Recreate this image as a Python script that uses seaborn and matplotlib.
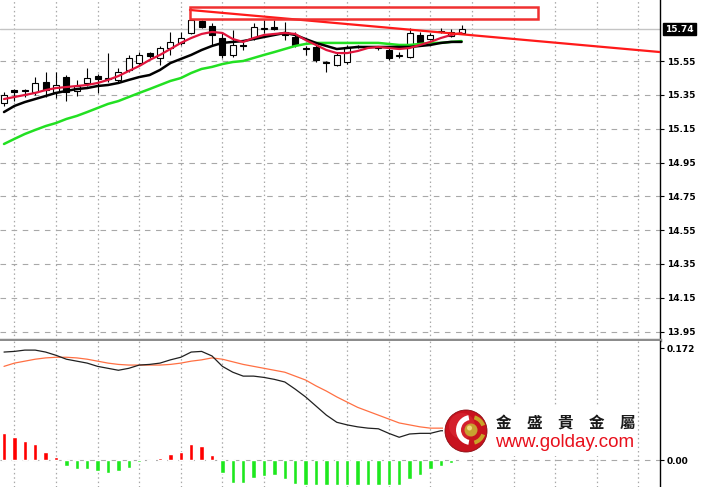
import numpy as np
import pandas as pd
import matplotlib
matplotlib.use("Agg")
import matplotlib.pyplot as plt
import matplotlib.transforms as mtransforms
import seaborn as sns
from matplotlib.patches import Rectangle, Circle, Wedge

# --- candle data (one bar per period) ---
opens = [15.303, 15.379, 15.379, 15.368, 15.427, 15.368, 15.456, 15.374, 15.421, 15.462,
         15.445, 15.439, 15.498, 15.539, 15.598, 15.569, 15.628, 15.658, 15.717, 15.788,
         15.758, 15.687, 15.587, 15.646, 15.687, 15.740, 15.752, 15.723, 15.693, 15.628,
         15.634, 15.545, 15.527, 15.545, 15.634, 15.634, 15.628, 15.616, 15.581, 15.575,
         15.705, 15.681, 15.729, 15.699, 15.717]
highs = [15.368, 15.385, 15.385, 15.456, 15.486, 15.486, 15.468, 15.439, 15.510, 15.474,
         15.598, 15.510, 15.587, 15.604, 15.604, 15.640, 15.723, 15.723, 15.800, 15.794,
         15.776, 15.723, 15.734, 15.664, 15.776, 15.794, 15.794, 15.782, 15.723, 15.640,
         15.646, 15.551, 15.598, 15.646, 15.646, 15.640, 15.640, 15.628, 15.604, 15.746,
         15.723, 15.717, 15.746, 15.740, 15.764]
lows = [15.285, 15.314, 15.338, 15.350, 15.338, 15.332, 15.314, 15.344, 15.403, 15.362,
        15.427, 15.427, 15.486, 15.521, 15.569, 15.527, 15.587, 15.646, 15.711, 15.746,
        15.646, 15.569, 15.575, 15.616, 15.675, 15.717, 15.734, 15.675, 15.634, 15.587,
        15.545, 15.486, 15.521, 15.533, 15.628, 15.628, 15.616, 15.557, 15.569, 15.569,
        15.652, 15.675, 15.717, 15.693, 15.711]
closes = [15.350, 15.368, 15.374, 15.421, 15.379, 15.409, 15.368, 15.403, 15.450, 15.445,
          15.450, 15.486, 15.569, 15.587, 15.581, 15.628, 15.664, 15.687, 15.794, 15.752,
          15.705, 15.587, 15.646, 15.640, 15.752, 15.746, 15.740, 15.705, 15.646, 15.622,
          15.557, 15.539, 15.587, 15.634, 15.640, 15.634, 15.634, 15.569, 15.587, 15.717,
          15.664, 15.705, 15.723, 15.723, 15.740]

# moving averages
ma_red = [15.326, 15.338, 15.350, 15.362, 15.379, 15.391, 15.397, 15.403, 15.409, 15.421,
          15.439, 15.462, 15.492, 15.521, 15.557, 15.587, 15.622, 15.658, 15.687, 15.711,
          15.723, 15.717, 15.681, 15.664, 15.687, 15.705, 15.711, 15.717, 15.711, 15.675,
          15.646, 15.616, 15.598, 15.598, 15.610, 15.628, 15.634, 15.628, 15.622, 15.628,
          15.646, 15.664, 15.687, 15.705, 15.717]
ma_black = [15.249, 15.285, 15.308, 15.326, 15.344, 15.362, 15.374, 15.385, 15.391, 15.403,
            15.409, 15.421, 15.439, 15.456, 15.468, 15.498, 15.539, 15.563, 15.587, 15.616,
            15.640, 15.658, 15.664, 15.669, 15.681, 15.693, 15.705, 15.717, 15.705, 15.681,
            15.658, 15.640, 15.622, 15.628, 15.634, 15.634, 15.634, 15.634, 15.634, 15.634,
            15.640, 15.646, 15.658, 15.664, 15.664]
ma_green = [15.060, 15.090, 15.119, 15.143, 15.166, 15.184, 15.208, 15.226, 15.249, 15.273,
            15.297, 15.314, 15.338, 15.362, 15.385, 15.409, 15.433, 15.450, 15.480, 15.504,
            15.516, 15.533, 15.545, 15.551, 15.569, 15.587, 15.604, 15.622, 15.640, 15.652,
            15.658, 15.658, 15.658, 15.658, 15.658, 15.658, 15.658, 15.652, 15.646, 15.646,
            15.652, 15.658, 15.658, 15.664, 15.669]

# MACD panel
macd_line = [0.166, 0.167, 0.169, 0.169, 0.166, 0.161, 0.155, 0.152, 0.149, 0.144,
             0.141, 0.138, 0.141, 0.146, 0.147, 0.149, 0.154, 0.158, 0.166, 0.167,
             0.160, 0.144, 0.135, 0.129, 0.129, 0.127, 0.124, 0.120, 0.109, 0.097,
             0.083, 0.069, 0.058, 0.054, 0.051, 0.049, 0.048, 0.041, 0.035, 0.040,
             0.041, 0.041, 0.045, 0.045, 0.046]
signal_line = [0.144, 0.149, 0.152, 0.155, 0.157, 0.158, 0.158, 0.157, 0.155, 0.152,
               0.149, 0.147, 0.146, 0.146, 0.146, 0.146, 0.147, 0.149, 0.152, 0.154,
               0.157, 0.155, 0.151, 0.147, 0.144, 0.141, 0.138, 0.135, 0.129, 0.123,
               0.114, 0.106, 0.097, 0.089, 0.081, 0.075, 0.069, 0.063, 0.057, 0.054,
               0.051, 0.049, 0.049, 0.049, 0.049]
histogram = [0.041, 0.035, 0.029, 0.025, 0.012, 0.005, -0.009, -0.014, -0.014, -0.017,
             -0.020, -0.017, -0.012, -0.003, -0.002, 0.003, 0.009, 0.012, 0.025, 0.022,
             0.008, -0.020, -0.035, -0.035, -0.028, -0.025, -0.023, -0.029, -0.037, -0.038,
             -0.038, -0.038, -0.038, -0.038, -0.038, -0.038, -0.038, -0.038, -0.038, -0.029,
             -0.023, -0.014, -0.009, -0.005, 0.001]

# drawn objects: trendline and resistance box (bar index, price)
trend_x = [17.88, 63.08]
trend_y = [15.853, 15.604]
box_x = [17.88, 51.35]
box_y = [15.800, 15.871]

price_ticks = [15.55, 15.35, 15.15, 14.95, 14.75, 14.55, 14.35, 14.15, 13.95]
last_price = 15.74
macd_ticks = [0.0, 0.172]

df = pd.DataFrame({"idx": np.arange(len(opens)), "open": opens, "high": highs,
                   "low": lows, "close": closes, "red": ma_red, "black": ma_black,
                   "green": ma_green, "macd": macd_line, "signal": signal_line,
                   "hist": histogram})

sns.set_theme(style="white")
plt.rcParams["font.family"] = ["DejaVu Sans"]

W, H = 705, 487
fig = plt.figure(figsize=(W / 100, H / 100), dpi=100)


def px_box(x0, y0, x1, y1):
    return [x0 / W, 1 - y1 / H, (x1 - x0) / W, (y1 - y0) / H]


ax = fig.add_axes(px_box(0, 0, 660, 340))
ax2 = fig.add_axes(px_box(0, 341, 660, 487), sharex=ax)

grid_c = "#a8a8a8"
vgrid = np.arange(1, 63, 4)

# --- price panel ---
for v in price_ticks:
    ax.axhline(v, color=grid_c, lw=0.8, ls=(0, (5, 5)), zorder=0)
for v in vgrid:
    ax.axvline(v, color=grid_c, lw=0.9, ls=(0, (1.2, 2.3)), zorder=0)
ax.axhline(last_price, color="#c4c4c4", lw=1.0, zorder=0.5)

ax.vlines(df["idx"], df["low"], df["high"], color="black", lw=0.8, zorder=2)
up = df["close"] >= df["open"]
body = (df["close"] - df["open"]).abs().clip(lower=0.002)
bottom = df[["open", "close"]].min(axis=1)
ax.bar(df["idx"], body, bottom=bottom, width=0.58,
       color=np.where(up, "white", "black"), edgecolor="black", linewidth=0.8, zorder=3)

sns.lineplot(data=df, x="idx", y="green", ax=ax, color="#22e022", lw=1.8, zorder=4)
sns.lineplot(data=df, x="idx", y="black", ax=ax, color="black", lw=1.8, zorder=4)
sns.lineplot(data=df, x="idx", y="red", ax=ax, color="#e0143c", lw=1.6, zorder=5)

ax.plot(trend_x, trend_y, color="#ff1a1a", lw=1.6, zorder=6)
ax.add_patch(Rectangle((box_x[0], box_y[0]), box_x[1] - box_x[0], box_y[1] - box_y[0],
                       fill=False, edgecolor="#f03030", lw=1.8, zorder=6))

ax.set_xlim(-0.385, 63.08)
ax.set_ylim(13.900, 15.912)
ax.yaxis.tick_right()
ax.set_yticks(price_ticks)
ax.set_yticklabels([f"{v:.2f}" for v in price_ticks])
ax.set_xlabel("")
ax.set_ylabel("")
ax.tick_params(axis="x", bottom=False, labelbottom=False)
ax.tick_params(axis="y", right=True, length=3, width=0.8, pad=2, labelsize=6.5,
               colors="black")
for s in ["left", "top"]:
    ax.spines[s].set_visible(False)
ax.spines["right"].set_color("black")
ax.spines["right"].set_linewidth(1.0)
ax.spines["bottom"].set_color("#8c8c8c")
ax.spines["bottom"].set_linewidth(2.5)
for lab in ax.get_yticklabels():
    lab.set_fontweight("bold")

trans = mtransforms.blended_transform_factory(ax.transAxes, ax.transData)
ax.text(1.008, last_price, "15.74", transform=trans, ha="left", va="center",
        color="white", fontsize=6.5, fontweight="bold", clip_on=False,
        bbox=dict(boxstyle="square,pad=0.2", fc="black", ec="black"))

# --- MACD panel ---
for v in vgrid:
    ax2.axvline(v, color=grid_c, lw=0.9, ls=(0, (1.2, 2.3)), zorder=0)
ax2.axhline(0, color=grid_c, lw=0.8, ls=(0, (5, 5)), zorder=0)
ax2.bar(df["idx"], df["hist"], width=0.42,
        color=np.where(df["hist"] >= 0, "#ff0000", "#1ee81e"), zorder=2)
sns.lineplot(data=df, x="idx", y="signal", ax=ax2, color="#ff7043", lw=0.9, zorder=3)
sns.lineplot(data=df, x="idx", y="macd", ax=ax2, color="#202020", lw=0.9, zorder=3)

ax2.set_ylim(-0.0415, 0.183)
ax2.yaxis.tick_right()
ax2.set_yticks(macd_ticks)
ax2.set_yticklabels(["0.00", "0.172"])
ax2.set_xlabel("")
ax2.set_ylabel("")
ax2.tick_params(axis="x", bottom=False, labelbottom=False)
ax2.tick_params(axis="y", right=True, length=3, width=0.8, pad=2, labelsize=6.5,
                colors="black")
for s in ["left", "top", "bottom"]:
    ax2.spines[s].set_visible(False)
ax2.spines["right"].set_color("black")
ax2.spines["right"].set_linewidth(1.0)
for lab in ax2.get_yticklabels():
    lab.set_fontweight("bold")

# --- watermark logo ---
lx = fig.add_axes(px_box(443, 406, 637, 456))
lx.set_xlim(443, 637)
lx.set_ylim(456, 406)
lx.set_xticks([])
lx.set_yticks([])
lx.set_facecolor("white")
for s in lx.spines.values():
    s.set_visible(False)
lx.add_patch(Circle((466, 431), 21, fc="#c8121e", ec="#8a0a10", lw=0.6))
lx.add_patch(Circle((462, 426), 13, fc="#e0303a", ec="none", alpha=0.5))
lx.add_patch(Wedge((471, 430), 15, 100, 260, width=5, fc="white", ec="none"))
lx.add_patch(Wedge((471, 430), 15, 20, 75, width=4, fc="#c9a227", ec="none"))
lx.add_patch(Wedge((471, 430), 15, 285, 340, width=4, fc="#c9a227", ec="none"))
lx.add_patch(Circle((471, 430), 6.5, fc="#c8a030", ec="none"))
lx.add_patch(Circle((469.5, 428), 2.5, fc="#f2d87a", ec="none"))
lx.text(566, 423, "金　盛　貴　金　屬", ha="center", va="center", fontsize=11.2,
        fontweight="bold", family=["Noto Sans CJK TC", "DejaVu Sans"], color="#1a1a1a")
lx.text(565, 447, "www.golday.com", ha="center", va="baseline", fontsize=13.5,
        family=["Liberation Sans", "DejaVu Sans"], color="#e8101c")

fig.savefig("out.png", dpi=100)
